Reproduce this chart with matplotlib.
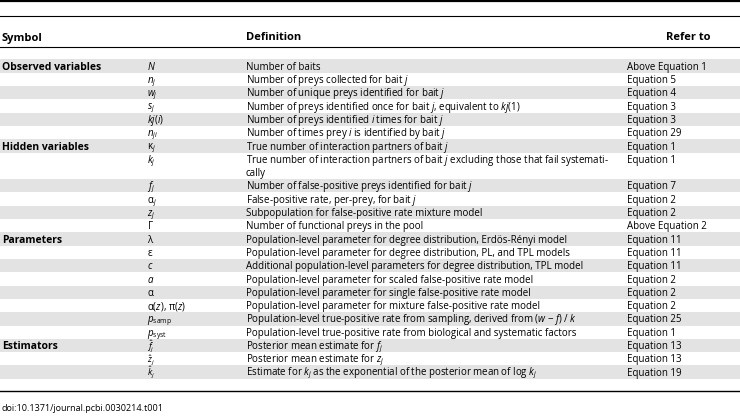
import matplotlib
matplotlib.use("Agg")
import matplotlib.pyplot as plt
from matplotlib.patches import Rectangle

plt.rcParams['font.family'] = ['Open Sans', 'DejaVu Sans']
plt.rcParams['mathtext.fontset'] = 'custom'
plt.rcParams['mathtext.rm'] = 'Open Sans'
plt.rcParams['mathtext.it'] = 'Open Sans:italic'
plt.rcParams['mathtext.bf'] = 'Open Sans:bold'

headers = ["Symbol", "Definition", "Refer to"]

categories = ["Observed variables", "", "", "", "", "",
              "Hidden variables", "", "", "", "", "",
              "Parameters", "", "", "", "", "", "", "",
              "Estimators", "", ""]

symbols = [r"$N$", r"$n_j$", r"$w_j$", r"$s_j$", r"$kj(i)$", r"$n_{ji}$",
           r"$\mathrm{\kappa}_j$", r"$k_j$", r"$f_j$", r"$\mathrm{\alpha}_j$", r"$z_j$", r"$\Gamma$",
           r"$\mathrm{\lambda}$", r"$\mathrm{\varepsilon}$", r"$c$", r"$a$", r"$\mathrm{\alpha}$",
           r"$\mathrm{\alpha}(z)$, $\mathrm{\pi}(z)$", r"$p_{\mathrm{samp}}$", r"$p_{\mathrm{syst}}$",
           r"$\hat{f}_j$", r"$\hat{z}_j$", r"$\hat{k}_j$"]

definitions = [
    "Number of baits",
    r"Number of preys collected for bait $j$",
    r"Number of unique preys identified for bait $j$",
    r"Number of preys identified once for bait $j$, equivalent to $kj$(1)",
    r"Number of preys identified $i$ times for bait $j$",
    r"Number of times prey $i$ is identified by bait $j$",
    r"True number of interaction partners of bait $j$",
    "True number of interaction partners of bait $j$ excluding those that fail systemati-\ncally",
    r"Number of false-positive preys identified for bait $j$",
    r"False-positive rate, per-prey, for bait $j$",
    "Subpopulation for false-positive rate mixture model",
    "Number of functional preys in the pool",
    "Population-level parameter for degree distribution, Erdös-Rényi model",
    "Population-level parameter for degree distribution, PL, and TPL models",
    "Additional population-level parameters for degree distribution, TPL model",
    "Population-level parameter for scaled false-positive rate model",
    "Population-level parameter for single false-positive rate model",
    "Population-level parameter for mixture false-positive rate model",
    r"Population-level true-positive rate from sampling, derived from ($w$ $-$ $f$) / $k$",
    "Population-level true-positive rate from biological and systematic factors",
    r"Posterior mean estimate for $f_j$",
    r"Posterior mean estimate for $z_j$",
    r"Estimate for $k_j$ as the exponential of the posterior mean of log $k_j$",
]

references = ["Above Equation 1", "Equation 5", "Equation 4", "Equation 3", "Equation 3",
              "Equation 29", "Equation 1", "Equation 1", "Equation 7", "Equation 2",
              "Equation 2", "Above Equation 2", "Equation 11", "Equation 11", "Equation 11",
              "Equation 2", "Equation 2", "Equation 2", "Equation 25", "Equation 1",
              "Equation 13", "Equation 13", "Equation 19"]

caption = "doi:10.1371/journal.pcbi.0030214.t001"

W, H = 740, 419
fig = plt.figure(figsize=(W / 100, H / 100), dpi=100)
ax = fig.add_axes([0, 0, 1, 1])
ax.set_xlim(0, W)
ax.set_ylim(H, 0)
ax.axis('off')

x_cat, x_sym, x_def, x_ref = 2, 147, 246, 627
fs = 7.0
line_h = 13.3
top0 = 59.5
base_off = 3.6  # baseline below band-line centre

# rules
ax.plot([0, W], [1, 1], color='black', lw=1.6)
ax.plot([0, W], [16.5, 16.5], color='black', lw=0.8)
ax.plot([0, W], [47, 47], color='black', lw=0.8)

hy = 40.5
ax.text(x_cat, hy, headers[0], fontsize=8.0, fontweight='bold', va='baseline', ha='left')
ax.text(x_def, hy, headers[1], fontsize=8.0, fontweight='bold', va='baseline', ha='left')
ax.text(666, hy, headers[2], fontsize=8.0, fontweight='bold', va='baseline', ha='left')

y = top0
for i, (cat, sym, d, ref) in enumerate(zip(categories, symbols, definitions, references)):
    lines = d.split("\n")
    n = len(lines)
    if i % 2 == 0:
        ax.add_patch(Rectangle((0, y), W, n * line_h, facecolor='#e3e3e3', edgecolor='none', zorder=0))
    yb = y + line_h / 2 + base_off
    if cat:
        ax.text(x_cat, yb, cat, fontsize=7.5, fontweight='bold', va='baseline', ha='left')
    sym_fs = 6.4 if r"\hat" in sym else fs
    ax.text(x_sym, yb, sym, fontsize=sym_fs, va='baseline', ha='left')
    for k, ln in enumerate(lines):
        ax.text(x_def, yb + k * line_h, ln, fontsize=fs, va='baseline', ha='left')
    ax.text(x_ref, yb, ref, fontsize=fs, va='baseline', ha='left')
    y += n * line_h

ax.plot([0, W], [391, 391], color='black', lw=1.0)
ax.text(2, 411, caption, fontsize=6.5, va='baseline', ha='left')

fig.savefig("out.png", dpi=100)
